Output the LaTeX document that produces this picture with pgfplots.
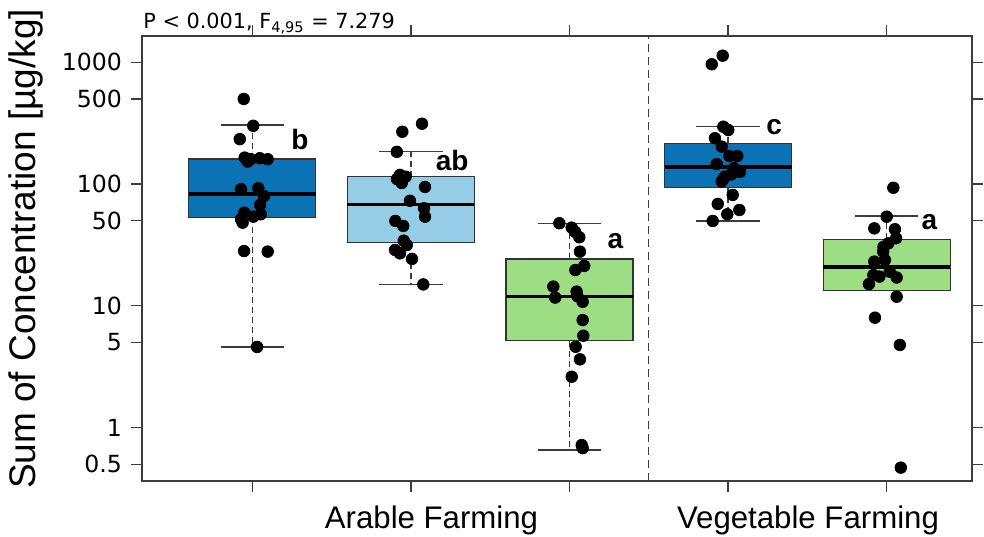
\documentclass[border=0pt]{standalone}
\usepackage{pgfplots}
\pgfplotsset{compat=1.18}
\usepgfplotslibrary{statistics}
\usepackage{fontspec}
\setmainfont{Liberation Sans}
\newfontfamily\verd{DejaVu Sans}
\definecolor{dblue}{HTML}{0A72B5}
\definecolor{lblue}{HTML}{96CDE6}
\definecolor{lgreen}{HTML}{9DDE84}
\definecolor{axgray}{HTML}{3C3C3C}
\begin{document}
\begin{tikzpicture}
\useasboundingbox (-71pt,-27.5pt) rectangle (421pt,240.5pt);
\begin{axis}[
  scale only axis, width=415pt, height=222.5pt,
  at={(0,0)}, anchor=south west,
  ymode=log, ymin=0.365, ymax=1644,
  xmin=0.3045, xmax=5.538,
  xtick={1,2,3,4,5}, xticklabels={},
  ytick={0.5,1,5,10,50,100,500,1000},
  yticklabels={0.5,1,5,10,50,100,500,1000},
  yminorticks=false,
  tick align=outside, major tick length=5.5pt,
  tick style={axgray, line width=0.6pt},
  axis line style={axgray, line width=0.7pt},
  yticklabel style={font=\verd\fontsize{11.8}{11.8}\selectfont, xshift=-1pt},
  /pgf/number format/assume math mode=true,
  boxplot/draw direction=y,
  boxplot/box extend=0.8,
  boxplot/whisker extend=0,
  boxplot/every whisker/.style={densely dashed, axgray, line width=0.6pt},
  boxplot/every median/.style={black, line width=1.8pt},
  boxplot/every box/.style={draw=black!80, line width=0.6pt},
]
% separator
\addplot[axgray, line width=0.6pt, dash pattern=on 4pt off 2.5pt] coordinates {(3.5,0.365) (3.5,1644)};
% whisker caps
\addplot[axgray, line width=0.7pt] coordinates {(0.8,305.6) (1.2,305.6)};
\addplot[axgray, line width=0.7pt] coordinates {(0.8,4.6) (1.2,4.6)};
\addplot[axgray, line width=0.7pt] coordinates {(1.8,184.5) (2.2,184.5)};
\addplot[axgray, line width=0.7pt] coordinates {(1.8,15) (2.2,15)};
\addplot[axgray, line width=0.7pt] coordinates {(2.8,47.7) (3.2,47.7)};
\addplot[axgray, line width=0.7pt] coordinates {(2.8,0.656) (3.2,0.656)};
\addplot[axgray, line width=0.7pt] coordinates {(3.8,296) (4.2,296)};
\addplot[axgray, line width=0.7pt] coordinates {(3.8,49.8) (4.2,49.8)};
\addplot[axgray, line width=0.7pt] coordinates {(4.8,54.7) (5.2,54.7)};
% boxes
\addplot[boxplot prepared={lower whisker=4.6, lower quartile=53.4, median=82.5, upper quartile=160.7, upper whisker=305.6, draw position=1}, fill=dblue] coordinates {};
\addplot[boxplot prepared={lower whisker=15, lower quartile=33, median=68.2, upper quartile=115, upper whisker=184.5, draw position=2}, fill=lblue] coordinates {};
\addplot[boxplot prepared={lower whisker=0.656, lower quartile=5.18, median=11.9, upper quartile=24.3, upper whisker=47.7, draw position=3}, fill=lgreen] coordinates {};
\addplot[boxplot prepared={lower whisker=49.8, lower quartile=94.1, median=137.4, upper quartile=216, upper whisker=296, draw position=4}, fill=dblue] coordinates {};
\addplot[boxplot prepared={lower whisker=13.4, lower quartile=13.4, median=20.9, upper quartile=35.2, upper whisker=54.7, draw position=5}, fill=lgreen] coordinates {};
% points
\addplot[only marks, mark=*, mark size=2.9pt, black] coordinates {
(0.946,500) (1.006,301) (0.921,234) (0.952,165) (0.971,153) (1.047,163) (1.097,160)
(0.929,90.7) (1.038,92.4) (1.074,79.8) (1.049,67.3) (0.950,58.2) (1.006,54) (1.053,56.5)
(0.939,48.2) (0.929,51.4) (0.948,28.2) (1.097,27.9) (1.030,4.6) (0.99,160)
};
\addplot[only marks, mark=*, mark size=2.9pt, black] coordinates {
(2.070,313) (1.946,269) (1.911,184) (1.931,119) (1.967,115) (1.942,102) (2.089,94.7)
(1.994,73) (2.083,63.3) (2.089,54) (1.902,49.8) (1.952,45.3) (1.955,34.3) (1.974,31.6)
(1.900,28.8) (1.931,27) (2.007,24.3) (2.078,15) (1.912,110)
};
\addplot[only marks, mark=*, mark size=2.9pt, black] coordinates {
(2.936,47.7) (3.014,43.9) (3.035,40.6) (3.062,36.6) (3.066,27.9) (3.093,21.3) (3.037,19.7)
(2.898,14.4) (2.910,11.7) (3.045,13.1) (3.083,10.8) (3.083,7.65) (3.087,5.69) (3.039,4.62)
(3.066,3.64) (3.014,2.62) (3.077,0.72) (3.083,0.68) (3.05,12.0)
};
\addplot[only marks, mark=*, mark size=2.9pt, black] coordinates {
(3.897,963) (3.966,1133) (3.970,296) (4.001,278) (3.917,238) (3.960,203) (4.008,170)
(4.058,170) (3.928,146) (4.037,135) (4.075,126) (3.980,115) (3.960,105) (4.029,81.5)
(3.935,68.7) (4.071,61.3) (3.995,56.5) (3.903,49.8) (4.02,120) (3.97,110)
};
\addplot[only marks, mark=*, mark size=2.9pt, black] coordinates {
(5.042,93.3) (5.000,54) (4.922,43.3) (5.052,42.6) (5.059,35.9) (5.010,32.6) (4.978,27.9)
(4.989,23.8) (4.922,23.1) (5.019,19.1) (4.916,17.9) (4.954,17.4) (5.063,17.1) (4.888,15.1)
(5.063,11.9) (4.926,8) (5.083,4.78) (5.089,0.47) (4.98,30.5)
};
% letters
\node[font=\bfseries\fontsize{14}{14}\selectfont] at (axis cs:1.30,231) {b};
\node[font=\bfseries\fontsize{14}{14}\selectfont] at (axis cs:2.26,157.7) {ab};
\node[font=\bfseries\fontsize{14}{14}\selectfont] at (axis cs:3.29,34.2) {a};
\node[font=\bfseries\fontsize{14}{14}\selectfont] at (axis cs:4.29,291.6) {c};
\node[font=\bfseries\fontsize{14}{14}\selectfont] at (axis cs:5.27,48.4) {a};
\end{axis}
\node[anchor=base west, font=\verd\fontsize{10.4}{10.4}\selectfont, inner sep=0pt] at (0.5pt,226.3pt) {P < 0.001, F\textsubscript{4,95} = 7.279};
\node[rotate=90, font=\fontsize{18.5}{18.5}\selectfont, inner sep=0pt] at (-58pt,116pt) {Sum of Concentration [µg/kg]};
\node[anchor=base, font=\fontsize{15.6}{15.6}\selectfont, inner sep=0pt] at (144.75pt,-23.5pt) {Arable Farming};
\node[anchor=base, font=\fontsize{15.6}{15.6}\selectfont, inner sep=0pt] at (333pt,-23.5pt) {Vegetable Farming};
\end{tikzpicture}
\end{document}
